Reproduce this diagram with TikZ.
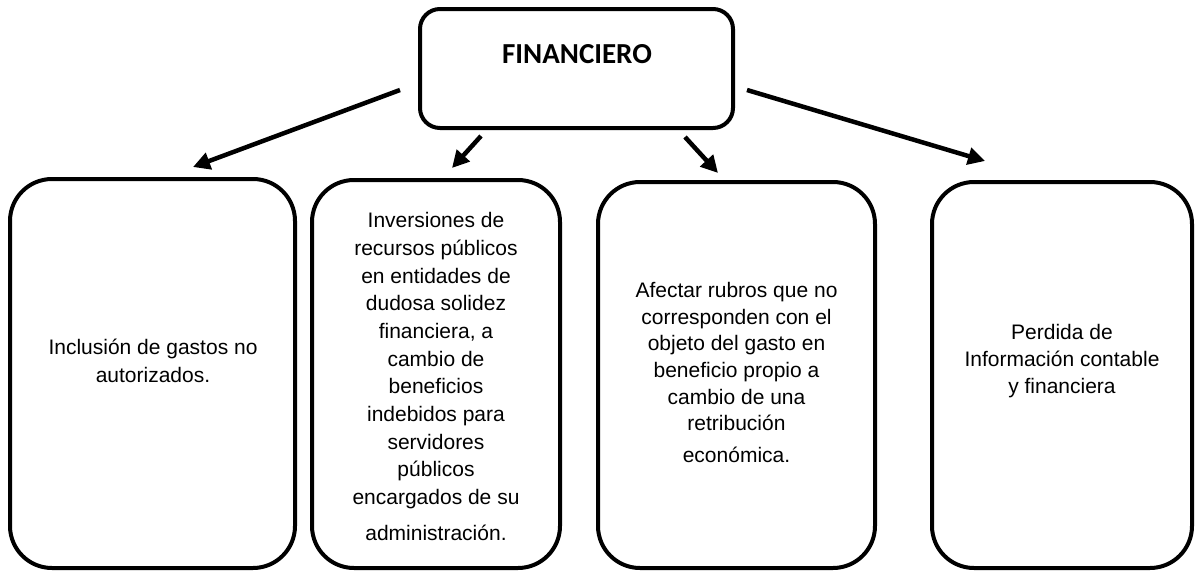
\documentclass[tikz,border=0pt]{standalone}
\usepackage{fontspec}
\setmainfont{Liberation Sans}
\newfontfamily\titlefont{Carlito}
\usetikzlibrary{arrows.meta}
\begin{document}
\begin{tikzpicture}[x=1pt,y=-1pt,
  box/.style={draw, line width=4pt, rounded corners=42pt, inner sep=0pt},
  topbox/.style={draw, line width=4pt, rounded corners=20pt, inner sep=0pt},
  txt/.style={align=center, font=\fontsize{21}{27.7}\selectfont, inner sep=0pt},
  conn/.style={line width=4.5pt, -{Triangle[length=17pt,width=17pt]}}]
\useasboundingbox (0,0) rectangle (1195,573);
% top box
\node[topbox, minimum width=313pt, minimum height=119pt] (top) at (576.5,68.5) {};
\node[font=\titlefont\bfseries\fontsize{29}{35}\selectfont, anchor=base, inner sep=0pt] (title) at (577,63) {FINANCIERO};
% lower boxes
\node[box, minimum width=285pt, minimum height=389pt] (b1) at (152.5,373.5) {};
\node[box, minimum width=248pt, minimum height=388pt] (b2) at (436,374) {};
\node[box, minimum width=277pt, minimum height=386pt] (b3) at (736.5,375) {};
\node[box, minimum width=260pt, minimum height=386pt] (b4) at (1062,375) {};
% texts
\node[txt] (l1) at (153,361) {Inclusión de gastos no\\autorizados.};
\node[txt] (l2) at (436,376.5) {Inversiones de\\recursos públicos\\en entidades de\\dudosa solidez\\financiera, a\\cambio de\\beneficios\\indebidos para\\servidores\\públicos\\encargados de su\\[8pt]administración.};
\node[txt, font=\fontsize{21}{26.6}\selectfont] (l3) at (736.5,372.5) {Afectar rubros que no\\corresponden con el\\objeto del gasto en\\beneficio propio a\\cambio de una\\retribución\\[5pt]económica.};
\node[txt, font=\fontsize{21}{27}\selectfont] (l4) at (1062,361) {Perdida de\\Información contable\\y financiera};
% arrow ends
\coordinate (t1) at (400,90);  \coordinate (h1) at (193,167);
\coordinate (t2) at (481,136); \coordinate (h2) at (452,168);
\coordinate (t3) at (685,137); \coordinate (h3) at (718,173);
\coordinate (t4) at (747,90);  \coordinate (h4) at (985,161);
\draw[conn] (t1) -- (h1);
\draw[conn] (t2) -- (h2);
\draw[conn] (t3) -- (h3);
\draw[conn] (t4) -- (h4);
\end{tikzpicture}
\end{document}
